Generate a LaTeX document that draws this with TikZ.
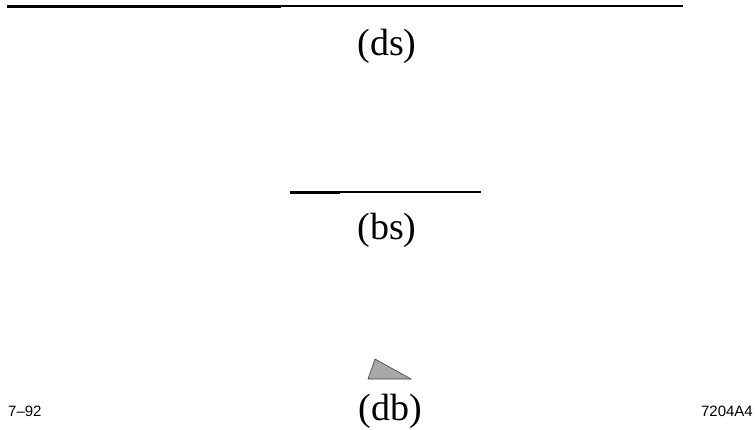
\documentclass[tikz,border=0pt]{standalone}
\usepackage{fontspec}
\setmainfont{Liberation Serif}
\newfontfamily\tagfont{Liberation Sans}
\usetikzlibrary{positioning}
\definecolor{wedgegray}{HTML}{A8A8A8}

\begin{document}
\begin{tikzpicture}[x=1pt, y=-1pt,
  caption/.style={inner sep=0pt, font=\fontsize{38}{40}\selectfont},
  tagtext/.style={inner sep=0pt, font=\tagfont\fontsize{15}{16}\selectfont},
  thickseg/.style={line width=3pt, line cap=butt},
  medseg/.style={line width=2pt, line cap=butt},
  thinseg/.style={line width=1.2pt, line cap=butt}
]
  \useasboundingbox (0,0) rectangle (755,429);

  % Top line (ds)
  \coordinate (dsa) at (7,6);
  \coordinate (dsb) at (281,6);
  \coordinate (dsc) at (683,6);
  \draw[thickseg] (dsa) -- (dsb);
  \draw[thinseg] (dsb) -- (dsc);
  \node[caption] (ds) at (387,46) {(ds)};

  % Middle line (bs)
  \coordinate (bsa) at (290,192);
  \coordinate (bsb) at (340,192);
  \coordinate (bsc) at (426,192);
  \coordinate (bsd) at (481,192);
  \draw[thickseg] (bsa) -- (bsb);
  \draw[medseg] (bsb) -- (bsc);
  \draw[thinseg] (bsc) -- (bsd);
  \node[caption] (bs) at (387,230) {(bs)};

  % Wedge (db)
  \draw[fill=wedgegray, draw=black!75, line width=0.6pt, line join=miter]
    (368,379) -- (375,359) -- (411,379) -- cycle;
  \node[caption] (db) at (390,411) {(db)};

  % Tags
  \node[tagtext, anchor=west] (date) at (8,411) {7–92};
  \node[tagtext, anchor=east] (fig) at (753,411) {7204A4};
\end{tikzpicture}
\end{document}
